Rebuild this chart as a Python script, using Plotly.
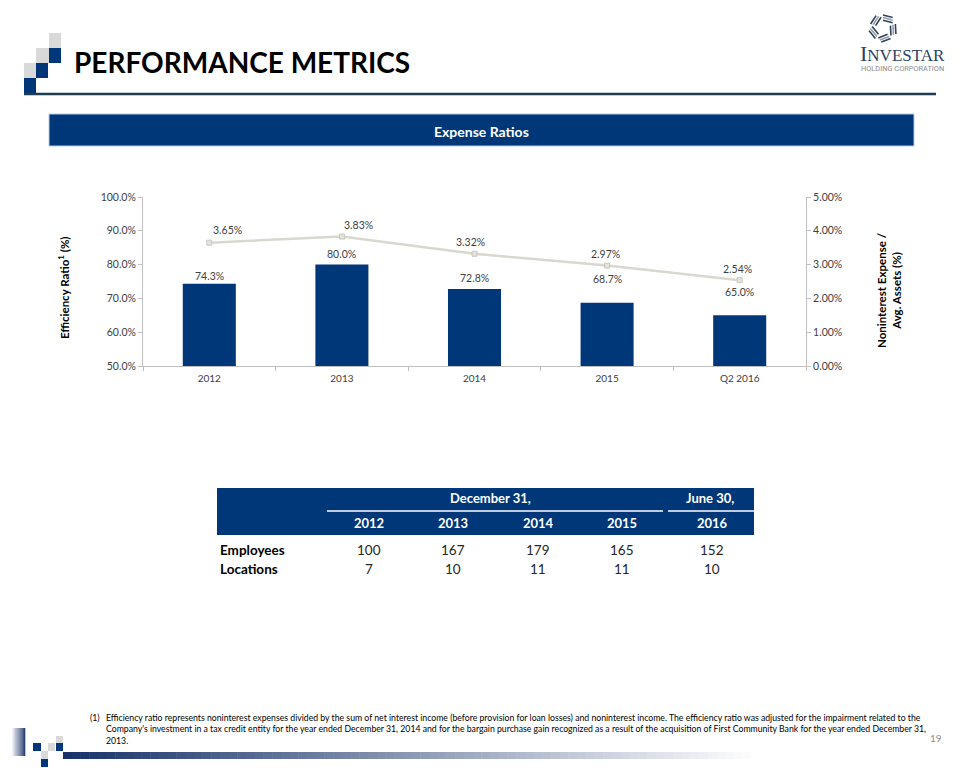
import plotly.graph_objects as go
import math

# ---------------- data ----------------
categories = ["2012", "2013", "2014", "2015", "Q2 2016"]
efficiency_ratio = [74.3, 80.0, 72.8, 68.7, 65.0]          # left axis (%)
nonint_exp_assets = [3.65, 3.83, 3.32, 2.97, 2.54]         # right axis (%)

table_years = ["2012", "2013", "2014", "2015", "2016"]
employees = [100, 167, 179, 165, 152]
locations = [7, 10, 11, 11, 10]

left_ticks = [50, 60, 70, 80, 90, 100]
right_ticks = [0, 1, 2, 3, 4, 5]

footnote = ("Efficiency ratio represents noninterest expenses divided by the sum of net interest income (before provision for loan losses) and noninterest income. "
            "The efficiency ratio was adjusted for the impairment related to the<br>Company's investment in a tax credit entity for the year ended December 31, 2014 "
            "and for the bargain purchase gain recognized as a result of the acquisition of First Community Bank for the year ended December 31,<br>2013.")

# ---------------- style ----------------
OFF = 8                      # page body margin of the html page
W, H = 960 - OFF, 768 - OFF
NAVY = "#003778"
LINE = "#d8d8cf"
TXT = "#404040"
FONT = "Lato, Open Sans, sans-serif"

def px(x):
    return (x - OFF) / W

def py(y):
    return 1 - (y - OFF) / H

bar_label_shift = [8, 11, 11, 24, 23]
line_label_xshift = [18, 17, -4, -2, -2]
line_label_yshift = [13, 12, 12, 12, 11]

fig = go.Figure()

fig.add_trace(go.Bar(
    x=categories, y=efficiency_ratio, marker=dict(color=NAVY, line=dict(width=0)),
    width=0.4, yaxis="y", xaxis="x", hoverinfo="skip"))

fig.add_trace(go.Scatter(
    x=categories, y=nonint_exp_assets, yaxis="y2", xaxis="x", mode="lines+markers",
    line=dict(color=LINE, width=2.5),
    marker=dict(symbol="square", size=5, color="#e4e4dc", line=dict(color="#c8c8c0", width=1)),
    hoverinfo="skip"))

annotations = []

def note(x, y, text, size, color="black", xanchor="center", yanchor="middle", **kw):
    annotations.append(dict(x=x, y=y, text=text, showarrow=False, xanchor=xanchor, yanchor=yanchor,
                            font=dict(family=kw.pop("family", FONT), size=size, color=color),
                            **({"xref": "paper", "yref": "paper"} | kw)))

for i, v in enumerate(efficiency_ratio):
    note(i, v, f"{v:.1f}%", 10.5, TXT, xref="x", yref="y", yshift=bar_label_shift[i])
for i, v in enumerate(nonint_exp_assets):
    note(i, v, f"{v:.2f}%", 10.5, TXT, xref="x", yref="y2",
         yshift=line_label_yshift[i], xshift=line_label_xshift[i])

# axis titles
note(px(63), py(288), "<b>Efficiency Ratio<sup>1</sup> (%)</b>", 11.5, textangle=-90)
note(px(889), py(290), "<b>Noninterest Expense /<br>Avg. Assets (%)</b>", 11.5, textangle=-90)

# header title
note(px(72), py(62), "<b>PERFORMANCE METRICS</b>", 28, xanchor="left")
# band title
note(px(481), py(131), "<b>Expense Ratios</b>", 14, "white")

# logo text
note(px(902), py(54), "<span style='font-size:22px'>I</span>NVESTAR", 17, "#2c4262",
     family="Liberation Serif, serif")
note(px(902), py(68.5), "HOLDING CORPORATION", 7.4, "#8c8c8c", family="Roboto, sans-serif")

# table
col_x = [369, 453, 538, 622, 712]
note(px(490), py(498), "<b>December 31,</b>", 13, "white")
note(px(710), py(498), "<b>June 30,</b>", 13, "white")
for cx, yr in zip(col_x, table_years):
    note(px(cx), py(523), f"<b>{yr}</b>", 13, "white")
for cx, e in zip(col_x, employees):
    note(px(cx), py(550), str(e), 13.5, "#262626")
for cx, l in zip(col_x, locations):
    note(px(cx), py(569), str(l), 13.5, "#262626")
note(px(218), py(550), "<b>Employees</b>", 13.5, xanchor="left")
note(px(218), py(569), "<b>Locations</b>", 13.5, xanchor="left")

# footnote
note(px(88), py(717), "(1)", 8.7, xanchor="left")
note(px(104), py(710), footnote, 8.7, xanchor="left", yanchor="top", align="left")
note(px(936), py(738), "19", 10, "#8c8c8c")

shapes = []

def rect(x0, y0, x1, y1, color, line=None):
    shapes.append(dict(type="rect", xref="paper", yref="paper", x0=px(x0), x1=px(x1),
                       y0=py(y1), y1=py(y0), fillcolor=color,
                       line=dict(width=0) if line is None else line, layer="above"))

# header squares
GRAY = "#d9d9d9"
rect(49, 33, 61, 48, GRAY)
rect(36, 48, 49, 63, GRAY)
rect(49, 48, 61, 63, NAVY)
rect(24, 63, 36, 78, GRAY)
rect(36, 63, 48, 78, NAVY)
rect(24, 78, 36, 94, NAVY)
# header rule
shapes.append(dict(type="line", xref="paper", yref="paper", x0=px(24), x1=px(936), y0=py(94), y1=py(94),
                   line=dict(color="#1c3d52", width=2.5)))
# band
rect(49, 114, 914, 146, NAVY, line=dict(color="#b8cce4", width=1))
# table header
rect(217, 488, 754, 535, NAVY)
shapes.append(dict(type="line", xref="paper", yref="paper", x0=px(327), x1=px(663), y0=py(511), y1=py(511),
                   line=dict(color="white", width=1.5)))
shapes.append(dict(type="line", xref="paper", yref="paper", x0=px(668), x1=px(754), y0=py(511), y1=py(511),
                   line=dict(color="white", width=1.5)))

# logo star (decorative swirl of strokes)
cxs, cys = 883, 28
for k in range(5):
    a = math.radians(90 + 72 * k)
    for j, col in enumerate(["#2c4262", "#9a9a9a", "#2c4262"]):
        rr = 13 - 2.6 * j
        x0 = cxs + rr * math.cos(a)
        y0 = cys - rr * math.sin(a)
        b = a - math.radians(105)
        x1 = x0 + 10 * math.cos(b)
        y1 = y0 - 10 * math.sin(b)
        shapes.append(dict(type="line", xref="paper", yref="paper", x0=px(x0), y0=py(y0), x1=px(x1), y1=py(y1),
                           line=dict(color=col, width=1.6)))

# bottom decoration
def lerp(c0, c1, t):
    return "rgb(%d,%d,%d)" % tuple(round(a + (b - a) * t) for a, b in zip(c0, c1))

n = 14
for i in range(n):
    x0 = 12 + (25 - 12) * i / n
    x1 = 12 + (25 - 12) * (i + 1) / n
    rect(x0, 728, x1 + 0.3, 756, lerp((245, 245, 248), (32, 56, 110), i / (n - 1)))
n = 80
for i in range(n):
    x0 = 63 + (760 - 63) * i / n
    x1 = 63 + (760 - 63) * (i + 1) / n
    rect(x0, 752, x1 + 0.5, 759, lerp((25, 50, 105), (255, 255, 255), i / (n - 1)))
rect(33, 743, 41, 751, NAVY)
rect(48, 743, 55, 751, GRAY)
rect(56, 736, 63, 743, GRAY)
rect(56, 743, 63, 751, NAVY)
rect(41, 751, 48, 759, GRAY)
rect(41, 759, 48, 767, NAVY)

AX = "#bfbfbf"
fig.update_layout(
    width=W, height=H, margin=dict(l=0, r=0, t=0, b=0, pad=0),
    paper_bgcolor="white", plot_bgcolor="white", showlegend=False,
    font=dict(family=FONT, size=10, color=TXT),
    xaxis=dict(domain=[px(143), px(806)], type="category", range=[-0.5, 4.5], tickson="boundaries",
               ticks="outside", automargin=False, ticklabelstandoff=3,
               ticklen=4, tickcolor=AX, showline=True, linecolor=AX, linewidth=1, showgrid=False,
               tickfont=dict(family=FONT, size=10, color=TXT), tickangle=0),
    yaxis=dict(domain=[py(366), py(197)], range=[50, 100], tickvals=left_ticks, automargin=False,
               ticktext=[f"{v:.1f}%" for v in left_ticks], ticks="outside", ticklen=4, tickcolor=AX,
               showline=True, linecolor=AX, showgrid=False, zeroline=False,
               tickfont=dict(family=FONT, size=10.5, color=TXT)),
    yaxis2=dict(overlaying="y", side="right", range=[0, 5], tickvals=right_ticks, automargin=False,
                ticktext=[f"{v:.2f}%" for v in right_ticks], ticks="outside", ticklen=4, tickcolor=AX,
                showline=True, linecolor=AX, showgrid=False, zeroline=False,
                tickfont=dict(family=FONT, size=10.5, color=TXT)),
    annotations=annotations, shapes=shapes,
)

fig.write_html("out.html")
